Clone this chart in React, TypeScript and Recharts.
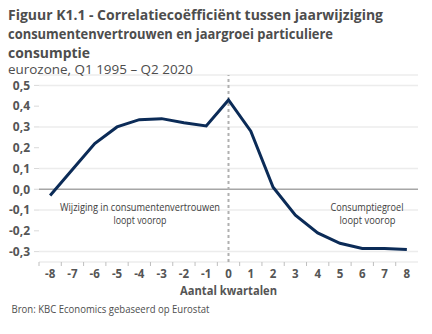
import { LineChart, Line, XAxis, YAxis, CartesianGrid, ReferenceLine } from 'recharts';

const quarters = [-8, -7, -6, -5, -4, -3, -2, -1, 0, 1, 2, 3, 4, 5, 6, 7, 8];
const correlation = [
  -0.03, 0.095, 0.22, 0.3, 0.335, 0.34, 0.32, 0.305, 0.43, 0.28, 0.01, -0.125, -0.21, -0.26, -0.285,
  -0.285, -0.29,
];
const yTicks = [-0.3, -0.2, -0.1, 0, 0.1, 0.2, 0.3, 0.4, 0.5];
const tickMarks = [-8.5, -7.5, -6.5, -5.5, -4.5, -3.5, -2.5, -1.5, -0.5, 0.5, 1.5, 2.5, 3.5, 4.5, 5.5, 6.5, 7.5];

const FONT = '"Open Sans", sans-serif';
const TEXT = '#555555';
const NAVY = '#0b2b57';

const data = quarters.map((q, i) => ({ q, v: correlation[i] }));
const xTicks = [...quarters, ...tickMarks].sort((a, b) => a - b);

// integer ticks get a label, half ticks get a short tick mark between categories
function XTick(props: any) {
  const { x, y, payload } = props;
  const val = payload.value as number;
  if (!Number.isInteger(val)) {
    const axisY = y - 8;
    return <line x1={x} x2={x} y1={axisY} y2={axisY + 4} stroke="#bfbfbf" strokeWidth={1} />;
  }
  return (
    <text x={x} y={y} dy="0.71em" textAnchor="middle" fill={TEXT} fontSize={11.5} fontWeight="bold" fontFamily={FONT}>
      {val}
    </text>
  );
}

export default function App() {
  return (
    <div style={{ position: 'absolute', left: 0, top: 0, width: 432, height: 334, background: '#fff' }}>
      <LineChart width={432} height={334} data={data} margin={{ top: 75, right: 14, bottom: 42, left: 0 }}>
        <CartesianGrid vertical={false} stroke="#ececec" strokeWidth={1.5} />
        <XAxis
          dataKey="q"
          type="number"
          domain={[-8.5, 8.5]}
          ticks={xTicks}
          interval={0}
          tick={<XTick />}
          tickLine={false}
          axisLine={false}
          tickSize={6}
          tickMargin={2}
          height={30}
        />
        <YAxis
          type="number"
          domain={[-0.35, 0.55]}
          ticks={yTicks}
          width={39}
          axisLine={false}
          tickSize={5}
          tickMargin={4}
          tickLine={{ stroke: '#d9d9d9' }}
          tickFormatter={(v: number) => v.toFixed(1).replace('.', ',')}
          tick={{ fill: TEXT, fontSize: 12, fontWeight: 'bold', fontFamily: FONT }}
        />
        <ReferenceLine y={0} stroke="#a6a6a6" strokeWidth={1.5} />
        <ReferenceLine x={0} stroke="#b0b0b0" strokeWidth={2} strokeDasharray="3 3" />
        <Line
          dataKey="v"
          type="linear"
          stroke={NAVY}
          strokeWidth={3}
          dot={false}
          isAnimationActive={false}
        />
      </LineChart>
      <svg
        width={432}
        height={334}
        style={{ position: 'absolute', left: 0, top: 0, pointerEvents: 'none' }}
        fontFamily={FONT}
      >
        <g fill="#4d4d4d" fontSize={14} fontWeight="bold">
          <text x={8} y={20} textLength={375} lengthAdjust="spacingAndGlyphs">
            Figuur K1.1 - Correlatiecoëfficiënt tussen jaarwijziging
          </text>
          <text x={8} y={39} textLength={325} lengthAdjust="spacingAndGlyphs">
            consumentenvertrouwen en jaargroei particuliere
          </text>
          <text x={8} y={58} textLength={82} lengthAdjust="spacingAndGlyphs">
            consumptie
          </text>
        </g>
        <text x={8} y={74} fill="#4d4d4d" fontSize={12} textLength={185} lengthAdjust="spacingAndGlyphs">
          eurozone, Q1 1995 – Q2 2020
        </text>
        <g fill="#404040" fontSize={10} textAnchor="middle">
          <text x={140} y={210.5} textLength={160} lengthAdjust="spacingAndGlyphs">
            Wijziging in consumentenvertrouwen
          </text>
          <text x={140} y={224} textLength={53} lengthAdjust="spacingAndGlyphs">
            loopt voorop
          </text>
          <text x={367} y={210.5} textLength={73} lengthAdjust="spacingAndGlyphs">
            Consumptiegroel
          </text>
          <text x={367.5} y={224} textLength={56} lengthAdjust="spacingAndGlyphs">
            loopt voorop
          </text>
        </g>
        <text
          x={228.5}
          y={295}
          textAnchor="middle"
          fill={TEXT}
          fontSize={13}
          fontWeight="bold"
          textLength={97}
          lengthAdjust="spacingAndGlyphs"
        >
          Aantal kwartalen
        </text>
        <text x={11.5} y={313} fill="#4d4d4d" fontSize={11.5} textLength={198} lengthAdjust="spacingAndGlyphs">
          Bron: KBC Economics gebaseerd op Eurostat
        </text>
      </svg>
    </div>
  );
}
